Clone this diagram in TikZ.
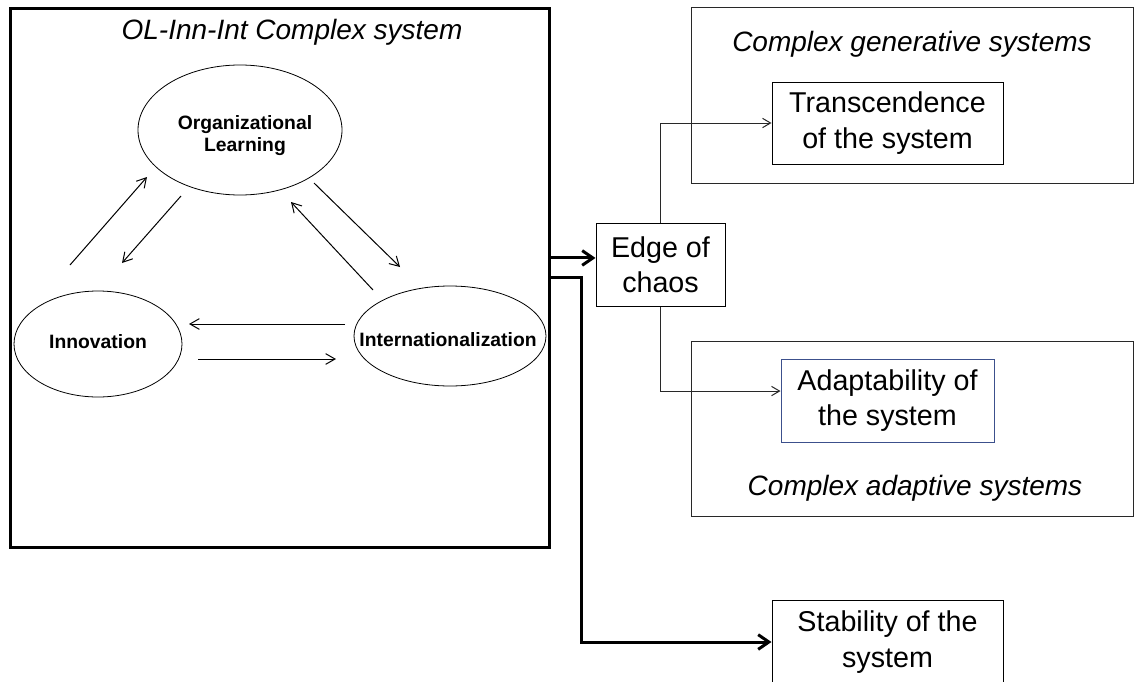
\documentclass[tikz,border=0pt]{standalone}
\usepackage{fontspec}
\setmainfont{Liberation Sans}
\usetikzlibrary{arrows.meta,shapes.geometric,calc}
\definecolor{linegray}{RGB}{40,40,40}
\definecolor{adaptblue}{RGB}{60,80,140}
\begin{document}
\begin{tikzpicture}[x=0.75pt,y=-0.75pt,
  bigtxt/.style={font=\fontsize{21.5}{26.5}\selectfont},
  ittxt/.style={font=\fontsize{21}{26}\selectfont\itshape},
  eltxt/.style={font=\fontsize{14.5}{16.5}\selectfont\bfseries},
  sysbox/.style={draw=linegray,line width=0.75pt,inner sep=0pt},
  resbox/.style={draw=black,line width=0.75pt,inner sep=0pt,align=center,bigtxt},
  oval/.style={ellipse,draw=black,line width=0.6pt,inner sep=0pt},
  thinarr/.style={line width=0.75pt,-{Straight Barb[length=7pt,width=8pt]}},
  conn/.style={draw=linegray,line width=0.75pt,-{Straight Barb[length=6pt,width=7pt]}},
  thk/.style={line width=2.25pt,-{Straight Barb[length=8pt,width=11pt]}}
]
\useasboundingbox (0,0) rectangle (1136,682);
\clip (0,0) rectangle (1136,682);
\fill[white] (0,0) rectangle (1136,682);

% outer system boxes
\node[sysbox,minimum width={442*0.75pt},minimum height={176*0.75pt}] (gen) at (912,95) {};
\node[sysbox,minimum width={442*0.75pt},minimum height={175*0.75pt}] (adsys) at (912,428.5) {};
\node[ittxt] (gentitle) at (912,44) {Complex generative systems};
\node[ittxt] (adtitle) at (915,488) {Complex adaptive systems};

% main box
\node[draw=black,line width=2.25pt,minimum width={539*0.75pt},minimum height={539*0.75pt}] (main) at (279.5,277.5) {};
\node[ittxt] (maintitle) at (292,32) {OL-Inn-Int Complex system};

% ellipses
\node[oval,minimum width={204*0.75pt},minimum height={130*0.75pt}] (ol) at (240,130) {};
\node[eltxt,align=center] (oltxt) at (245,136) {Organizational\\Learning};
\node[oval,minimum width={168*0.75pt},minimum height={106*0.75pt}] (inn) at (98,344) {};
\node[eltxt] (inntxt) at (98,342) {Innovation};
\node[oval,minimum width={192*0.75pt},minimum height={100*0.75pt}] (intl) at (450,336) {};
\node[eltxt] (intltxt) at (448,340) {Internationalization};

% arrow end points inside main box
\coordinate (a1s) at (70,265);  \coordinate (a1e) at (147,177);
\coordinate (a2s) at (181,196); \coordinate (a2e) at (122,263);
\coordinate (a3s) at (373,290); \coordinate (a3e) at (291,202);
\coordinate (a4s) at (314,183); \coordinate (a4e) at (400,267);
\coordinate (a5s) at (345,324); \coordinate (a5e) at (189,324);
\coordinate (a6s) at (198,359); \coordinate (a6e) at (336,359);
\draw[thinarr] (a1s) -- (a1e);
\draw[thinarr] (a2s) -- (a2e);
\draw[thinarr] (a3s) -- (a3e);
\draw[thinarr] (a4s) -- (a4e);
\draw[thinarr] (a5s) -- (a5e);
\draw[thinarr] (a6s) -- (a6e);

% result boxes
\node[resbox,minimum width={129*0.75pt},minimum height={83*0.75pt}] (edge) at (660.5,264.5) {Edge of\\chaos};
\node[resbox,minimum width={231*0.75pt},minimum height={82*0.75pt}] (trans) at (887.5,123) {Transcendence\\of the system};
\node[resbox,draw=adaptblue,minimum width={213*0.75pt},minimum height={83*0.75pt}] (adapt) at (887.5,400.5) {Adaptability of\\the system};
\node[resbox,minimum width={231*0.75pt},minimum height={84*0.75pt}] (stab) at (887.5,642) {Stability of the\\system};

% connectors
\draw[thk] ([yshift=4.9pt]main.east |- edge.west) -- ([yshift=4.9pt]edge.west);
\draw[thk] (main.east) -- ++(31,0) |- (stab.west);
\draw[conn] (edge.north) |- (trans.west);
\draw[conn] (edge.south) |- ([yshift=7.1pt]adapt.west);
\end{tikzpicture}
\end{document}
